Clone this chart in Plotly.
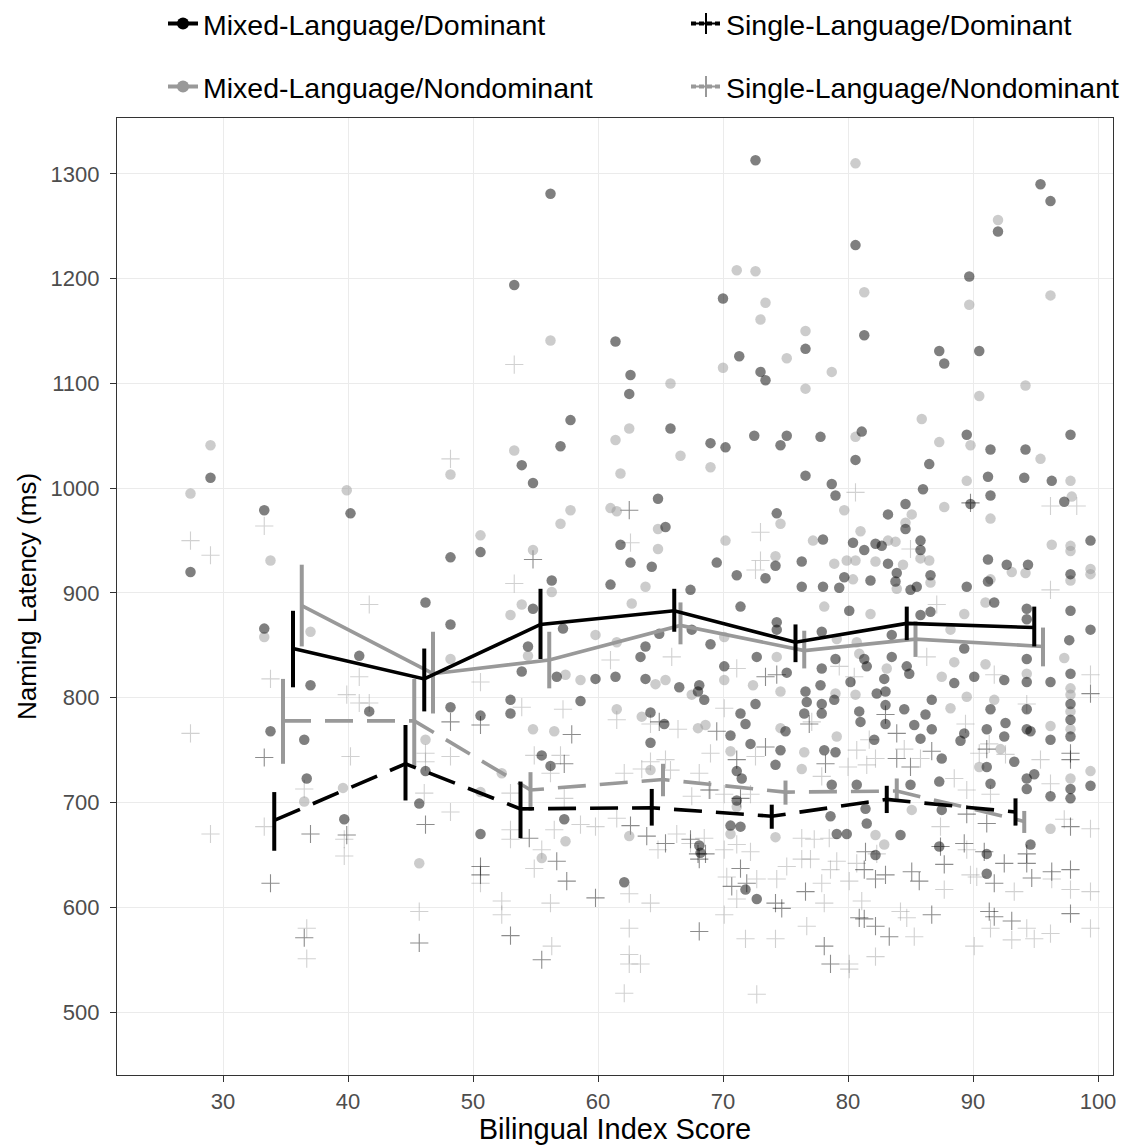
import plotly.graph_objects as go

# ---------------- condition means with CI bounds ----------------
md_x = [35.6, 46.1, 55.4, 66.1, 75.8, 84.7, 94.9]
md_y = [847, 818, 870, 883, 853, 871, 867]
md_hi = [883, 847, 904, 904, 870, 887, 887]
md_lo = [810, 787, 837, 863, 834, 855, 849]

mn_x = [36.3, 46.8, 56.1, 66.6, 76.5, 85.4, 95.6]
mn_y = [888, 823, 836, 869, 845, 856, 849]
mn_hi = [927, 863, 863, 891, 864, 873, 867]
mn_lo = [849, 785, 809, 851, 828, 839, 830]

sd_x = [34.1, 44.6, 53.8, 64.3, 73.9, 83.1, 93.4]
sd_y = [683, 737, 694, 695, 687, 703, 691]
sd_hi = [710, 774, 720, 713, 698, 716, 704]
sd_lo = [654, 702, 666, 678, 675, 690, 678]

sn_x = [34.8, 45.3, 54.6, 65.2, 75.0, 83.9, 94.1]
sn_y = [778, 778, 712, 722, 710, 711, 682]
sn_hi = [818, 818, 729, 737, 721, 723, 692]
sn_lo = [737, 734, 692, 706, 698, 702, 671]

# ---------------- participant-level observations ----------------
# Mixed-Language / Dominant
mdp_x = [27.4, 29.0, 33.3, 33.3, 33.8, 36.5, 36.7, 37.0, 40.9, 41.7, 39.7, 45.7, 46.2, 46.2, 48.2, 48.2,
         40.2, 48.2, 56.2, 72.6, 53.3, 70.0, 71.3, 73.0, 73.4, 61.4, 62.6, 62.5, 57.8, 57.0, 53.9, 54.8,
         65.8, 69.0, 70.2, 72.5, 75.1, 74.6, 64.8, 65.4, 50.6, 61.8, 62.6, 64.3, 56.3, 61.0, 67.4, 74.3,
         74.2, 71.1, 73.4, 69.5, 95.4, 96.2, 92.0, 80.6, 89.7, 76.6, 81.3, 87.3, 87.7, 90.5, 77.8, 81.1,
         80.6, 89.5, 91.4, 94.2, 97.8, 86.5, 76.6, 78.7, 79.0, 91.2, 94.1, 96.3, 86.0, 91.4, 89.8, 84.6,
         83.2, 97.3, 84.6, 78.0, 80.4, 81.3, 82.2, 82.7, 85.8, 85.8, 91.2, 99.4, 76.3, 83.2, 83.9, 79.7,
         81.8, 83.8, 86.6, 92.7, 94.4, 97.8, 91.2, 76.3, 78.0, 79.3, 85.0, 85.5, 89.5, 54.8, 57.2, 54.4,
         53.9, 56.7, 59.8, 61.4, 63.8, 63.4, 64.9, 63.8, 66.5, 68.1, 68.0, 68.5, 67.5, 69.0, 70.1, 71.4,
         74.3, 74.3, 72.7, 72.6, 75.1, 53.0, 53.0, 50.6, 58.6, 64.2, 65.3, 64.2, 70.6, 71.4, 71.8, 72.2,
         75.0, 74.6, 74.2, 55.5, 56.2, 71.1, 71.5, 57.3, 50.6, 70.6, 71.4, 71.1, 68.1, 68.2, 62.1, 71.8,
         72.7, 97.8, 99.4, 97.7, 94.3, 94.3, 96.2, 97.8, 97.8, 97.8, 97.8, 97.8, 97.8, 99.4, 96.2, 94.6,
         94.3, 94.3, 92.6, 92.5, 93.3, 91.1, 91.1, 91.4, 94.3, 94.9, 94.3, 96.2, 91.1, 91.1, 94.6, 89.3,
         88.5, 90.1, 92.5, 91.4, 89.3, 89.0, 86.7, 86.2, 86.7, 85.8, 87.5, 87.3, 87.5, 85.0, 84.7, 84.9,
         83.5, 82.9, 83.0, 83.0, 83.0, 82.3, 84.5, 85.3, 82.1, 81.5, 81.3, 80.2, 80.9, 81.0, 79.0, 78.9,
         77.9, 77.8, 77.9, 77.9, 76.6, 76.7, 76.5, 78.1, 79.0, 78.7, 80.7, 81.4, 81.5, 79.9, 79.1, 78.6,
         82.2, 84.2, 87.3, 80.1, 77.9, 83.5, 85.8, 86.6, 91.7, 94.3, 94.3]
mdp_y = [920, 1010, 979, 866, 768, 760, 723, 812, 840, 787, 684, 699, 891, 730, 870, 791,
         976, 934, 1281, 1313, 1194, 1181, 1126, 1111, 1103, 1140, 1108, 1090, 1065, 1040, 1022, 1005,
         1057, 1043, 1039, 1050, 1050, 1041, 990, 963, 939, 946, 929, 925, 912, 908, 903, 976,
         926, 917, 914, 929, 1290, 1274, 1245, 1232, 1202, 1133, 1146, 1131, 1119, 1131, 1049, 1054,
         1027, 1051, 1037, 1037, 1051, 1023, 1012, 1004, 993, 1011, 1010, 1007, 999, 993, 985, 985,
         975, 987, 961, 951, 948, 941, 947, 945, 950, 941, 932, 950, 930, 928, 919, 915,
         912, 911, 917, 927, 927, 918, 911, 906, 906, 905, 903, 906, 906, 885, 866, 849,
         825, 820, 818, 820, 849, 839, 861, 818, 810, 812, 806, 798, 865, 851, 830, 887,
         872, 865, 839, 794, 824, 798, 785, 783, 797, 786, 775, 757, 764, 785, 775, 756,
         768, 750, 736, 745, 735, 730, 723, 684, 670, 678, 677, 702, 659, 652, 624, 617,
         608, 883, 865, 855, 837, 815, 815, 823, 794, 779, 763, 713, 704, 716, 760, 768,
         770, 789, 776, 763, 739, 770, 734, 718, 723, 727, 713, 706, 651, 632, 660, 847,
         814, 820, 817, 789, 766, 759, 798, 784, 770, 761, 742, 720, 693, 717, 830, 823,
         839, 818, 806, 793, 775, 804, 789, 774, 760, 830, 837, 815, 787, 777, 837, 798,
         828, 812, 794, 785, 806, 796, 785, 750, 748, 717, 717, 694, 680, 670, 670, 687,
         650, 669, 658, 883, 863, 860, 879, 882, 891, 885, 875]

# Mixed-Language / Nondominant
mnp_x = [27.4, 29.0, 33.8, 33.3, 36.5, 37.0, 39.6, 45.7, 46.2, 48.2, 39.9, 48.2, 56.2, 71.1, 72.6, 73.4,
         73.0, 70.0, 75.1, 65.8, 53.3, 62.5, 61.4, 66.6, 61.8, 69.0, 61.0, 61.5, 57.8, 57.0, 50.6, 54.8,
         64.8, 64.8, 63.8, 70.2, 74.6, 74.2, 56.3, 80.6, 92.0, 81.3, 89.7, 96.2, 76.6, 78.7, 76.6, 94.2,
         90.5, 80.6, 85.9, 87.3, 89.8, 95.4, 97.8, 89.5, 87.7, 79.7, 85.1, 91.4, 97.9, 84.6, 81.0, 77.2,
         83.2, 83.8, 85.8, 86.5, 96.3, 97.8, 97.8, 78.9, 79.9, 80.6, 82.2, 84.4, 80.4, 86.6, 93.1, 94.2,
         99.4, 99.4, 97.8, 91.4, 83.9, 53.9, 53.0, 54.4, 57.4, 58.6, 62.7, 59.8, 61.5, 64.6, 65.4, 67.5,
         70.1, 70.1, 74.3, 72.4, 74.6, 54.8, 56.5, 61.5, 63.5, 68.0, 68.6, 74.6, 70.6, 64.2, 52.3, 50.6,
         57.4, 62.5, 55.5, 70.6, 71.1, 74.2, 97.3, 94.3, 97.8, 97.8, 97.8, 97.8, 97.8, 99.4, 96.2, 92.2,
         90.5, 96.2, 88.5, 91.0, 91.7, 89.5, 87.5, 88.2, 83.1, 80.9, 80.6, 79.0, 76.5, 79.1, 76.3, 85.1,
         82.9, 82.2, 81.8, 78.1, 79.1, 80.7, 89.3, 91.0, 88.2]
mnp_y = [995, 1041, 931, 858, 701, 863, 714, 642, 760, 837, 998, 1013, 1141, 1208, 1207, 1177,
         1161, 1115, 1124, 1100, 1036, 1057, 1046, 1031, 1014, 1020, 981, 978, 979, 966, 955, 941,
         961, 942, 906, 950, 966, 935, 901, 1310, 1256, 1187, 1175, 1184, 1150, 1111, 1095, 1098,
         1088, 1049, 1066, 1044, 1041, 1028, 1007, 1007, 982, 979, 975, 971, 992, 967, 959, 950,
         950, 949, 933, 931, 946, 945, 940, 928, 931, 931, 930, 927, 913, 910, 920, 919,
         923, 918, 912, 913, 904, 889, 879, 840, 822, 817, 890, 860, 853, 813, 817, 803,
         817, 858, 839, 812, 806, 770, 768, 789, 782, 771, 774, 771, 749, 731, 728, 710,
         663, 668, 647, 670, 696, 667, 838, 823, 809, 803, 787, 770, 723, 730, 773, 751,
         734, 675, 834, 832, 798, 801, 820, 790, 828, 842, 803, 804, 748, 763, 732, 693,
         660, 669, 880, 887, 856, 853, 880, 891, 865]

# Single-Language / Dominant
sdp_x = [33.3, 33.8, 37.0, 39.9, 36.5, 45.7, 46.2, 48.2, 54.8, 62.5, 89.8, 50.6, 57.9, 57.3, 54.5, 62.6,
         68.9, 63.9, 65.4, 67.4, 68.1, 68.0, 68.6, 71.1, 73.4, 74.3, 73.4, 69.5, 64.9, 71.4, 50.6, 50.6,
         53.0, 55.5, 57.5, 56.7, 59.8, 68.1, 74.2, 74.7, 71.4, 70.7, 71.9, 99.4, 97.8, 97.8, 97.8, 97.8,
         97.8, 96.3, 94.3, 94.3, 94.7, 93.1, 92.5, 91.7, 91.3, 91.7, 91.1, 91.1, 90.9, 89.5, 89.3, 87.4,
         87.7, 86.7, 86.7, 85.7, 85.1, 83.9, 85.0, 83.3, 82.2, 81.3, 80.9, 78.6, 78.1, 76.6, 81.3, 82.2,
         83.0, 81.4, 78.2, 83.0, 83.9, 76.9]
sdp_y = [743, 623, 670, 669, 571, 566, 679, 777, 932, 979, 986, 774, 765, 737, 666, 678,
         712, 668, 661, 665, 646, 651, 651, 741, 753, 822, 820, 768, 777, 704, 639, 631,
         573, 550, 625, 644, 609, 577, 604, 599, 637, 620, 623, 804, 747, 741, 677, 636,
         594, 634, 651, 642, 628, 587, 642, 623, 596, 591, 751, 680, 653, 689, 661, 658,
         641, 749, 593, 625, 634, 742, 734, 572, 582, 589, 590, 546, 563, 615, 636, 627,
         631, 653, 737, 784, 766, 775]

# Single-Language / Nondominant
snp_x = [27.4, 29.0, 27.4, 29.0, 33.3, 33.8, 33.3, 36.5, 39.7, 39.7, 40.2, 40.9, 41.7, 40.9, 39.9, 41.7,
         36.7, 36.7, 45.7, 46.1, 46.2, 46.2, 48.2, 48.2, 53.3, 53.3, 62.6, 73.0, 72.6, 73.0, 48.2, 80.6,
         96.2, 85.0, 96.2, 50.6, 53.9, 57.2, 54.9, 57.0, 56.2, 53.0, 53.0, 53.0, 56.5, 57.3, 58.6, 59.8,
         61.5, 62.1, 63.5, 64.2, 65.4, 65.8, 68.1, 67.5, 64.8, 66.3, 68.5, 70.1, 71.1, 72.2, 69.0, 72.6,
         71.1, 70.1, 66.4, 65.9, 61.0, 61.5, 64.2, 67.4, 69.0, 70.1, 72.2, 50.6, 52.3, 52.3, 56.2, 56.3,
         54.9, 55.5, 62.5, 62.5, 62.5, 62.5, 63.4, 62.1, 64.2, 71.8, 74.2, 72.7, 74.3, 75.1, 70.3, 71.1,
         70.1, 72.7, 99.4, 99.4, 99.4, 99.4, 97.8, 97.3, 96.3, 96.2, 94.3, 93.3, 93.1, 94.9, 94.3, 91.4,
         90.1, 91.3, 89.8, 88.5, 87.4, 85.3, 84.7, 84.2, 81.1, 82.2, 80.1, 80.1, 76.7, 78.1, 77.9, 78.6,
         80.1, 82.3, 80.7, 79.1, 76.3, 77.0, 76.3, 77.3, 78.5, 77.9, 80.0, 81.5, 82.2, 81.7, 80.7, 84.5,
         85.8, 77.1, 79.3, 80.5, 87.1, 86.3, 91.7, 89.4, 90.5, 89.5, 91.4, 92.6, 95.4, 96.2, 89.5, 90.3,
         87.7, 98.3]
snp_y = [950, 936, 766, 670, 964, 818, 677, 713, 665, 649, 744, 795, 795, 820, 803, 889,
         580, 551, 596, 709, 747, 739, 691, 744, 1118, 909, 948, 958, 922, 931, 1028, 996,
         983, 942, 903, 815, 791, 789, 745, 745, 728, 709, 674, 665, 674, 704, 679, 677,
         685, 728, 732, 739, 741, 731, 728, 706, 655, 670, 666, 655, 660, 653, 747, 744,
         828, 790, 770, 839, 836, 779, 775, 661, 712, 708, 708, 623, 606, 593, 604, 563,
         637, 655, 613, 580, 555, 546, 546, 518, 604, 570, 570, 517, 627, 639, 629, 608,
         593, 627, 822, 675, 615, 580, 617, 684, 627, 575, 794, 615, 569, 570, 580, 580,
         563, 756, 631, 723, 677, 572, 590, 596, 606, 553, 546, 541, 582, 604, 623, 636,
         625, 651, 642, 644, 646, 646, 666, 665, 666, 725, 734, 736, 742, 760, 750, 751,
         742, 777, 830, 820, 889, 839, 822, 775, 747, 712, 708, 746, 741, 718, 655, 629,
         617, 983]

x_ticks = [30, 40, 50, 60, 70, 80, 90, 100]
y_ticks = [500, 600, 700, 800, 900, 1000, 1100, 1200, 1300]

labels = ["Mixed-Language/Dominant", "Single-Language/Dominant",
          "Mixed-Language/Nondominant", "Single-Language/Nondominant"]

BLACK = "#000000"
GREY = "#999999"
FONT = "Liberation Sans, Arial, sans-serif"

# figure size (the page body adds an 8 px margin around it)
W, H = 1134, 1137

fig = go.Figure()

# raw points
fig.add_trace(go.Scatter(x=snp_x, y=snp_y, mode="markers", showlegend=False, hoverinfo="skip",
                         marker=dict(symbol="cross-thin", size=13, line=dict(width=1.1, color="rgba(153,153,153,0.45)"))))
fig.add_trace(go.Scatter(x=sdp_x, y=sdp_y, mode="markers", showlegend=False, hoverinfo="skip",
                         marker=dict(symbol="cross-thin", size=13, line=dict(width=1.1, color="rgba(0,0,0,0.45)"))))
fig.add_trace(go.Scatter(x=mnp_x, y=mnp_y, mode="markers", showlegend=False, hoverinfo="skip",
                         marker=dict(symbol="circle", size=10.5, color="rgba(153,153,153,0.5)", line=dict(width=0))))
fig.add_trace(go.Scatter(x=mdp_x, y=mdp_y, mode="markers", showlegend=False, hoverinfo="skip",
                         marker=dict(symbol="circle", size=10.5, color="rgba(0,0,0,0.5)", line=dict(width=0))))


def mean_trace(x, y, hi, lo, color, dash):
    return go.Scatter(
        x=x, y=y, mode="lines", showlegend=False, hoverinfo="skip",
        line=dict(color=color, width=3.6, dash=dash),
        error_y=dict(type="data", symmetric=False,
                     array=[h - m for h, m in zip(hi, y)],
                     arrayminus=[m - l for m, l in zip(y, lo)],
                     color=color, thickness=4, width=0))


DASH = "28px,14px"
fig.add_trace(mean_trace(sn_x, sn_y, sn_hi, sn_lo, GREY, DASH))
fig.add_trace(mean_trace(sd_x, sd_y, sd_hi, sd_lo, BLACK, DASH))
fig.add_trace(mean_trace(mn_x, mn_y, mn_hi, mn_lo, GREY, "solid"))
fig.add_trace(mean_trace(md_x, md_y, md_hi, md_lo, BLACK, "solid"))

# legend entries: one legend per entry, laid out in a 2 x 2 grid
leg_specs = [
    (labels[0], BLACK, "solid", "circle", "legend"),
    (labels[1], BLACK, "5px,3px", "cross-thin", "legend2"),
    (labels[2], GREY, "solid", "circle", "legend3"),
    (labels[3], GREY, "5px,3px", "cross-thin", "legend4"),
]
for name, col, dash, sym, lg in leg_specs:
    if sym == "circle":
        mk = dict(symbol="circle", size=12, color=col, line=dict(width=0))
    else:
        mk = dict(symbol="cross-thin", size=15, color=col, line=dict(width=2, color=col))
    fig.add_trace(go.Scatter(x=[None], y=[None], mode="lines+markers", name=name, legend=lg,
                             line=dict(color=col, width=4, dash=dash), marker=mk))

axis_common = dict(
    showgrid=True, gridcolor="#EBEBEB", gridwidth=1.2,
    zeroline=False, showline=True, linecolor="#333333", linewidth=1.3, mirror=True,
    ticks="outside", ticklen=6, tickcolor="#333333", tickwidth=1.3,
    tickfont=dict(family=FONT, size=22, color="#4D4D4D"),
    automargin=False,
)

fig.update_xaxes(range=[21.52, 101.2], tickvals=x_ticks, ticktext=[str(v) for v in x_ticks],
                 title=dict(text="Bilingual Index Score", font=dict(family=FONT, size=29, color="#000000"), standoff=4),
                 ticklabelstandoff=0, **axis_common)
fig.update_yaxes(range=[440, 1353.3], tickvals=y_ticks, ticktext=[str(v) for v in y_ticks],
                 title=dict(text="Naming Latency (ms)", font=dict(family=FONT, size=26, color="#000000"), standoff=6),
                 ticklabelstandoff=6, **axis_common)

leg_common = dict(orientation="h", xanchor="left", yanchor="middle", bgcolor="rgba(0,0,0,0)",
                  xref="container", yref="container",
                  font=dict(family=FONT, size=28.5, color="#000000"), itemsizing="trace")
col1 = (203 - 48) / W
col2 = (726 - 48) / W
row1 = 1 - 16 / H
row2 = 1 - 79 / H
fig.update_layout(
    width=W, height=H,
    margin=dict(l=109, r=29, t=110, b=70, autoexpand=False),
    plot_bgcolor="white", paper_bgcolor="white",
    font=dict(family=FONT),
    legend=dict(x=col1, y=row1, **leg_common),
    legend2=dict(x=col2, y=row1, **leg_common),
    legend3=dict(x=col1, y=row2, **leg_common),
    legend4=dict(x=col2, y=row2, **leg_common),
)

fig.write_html("out.html")
